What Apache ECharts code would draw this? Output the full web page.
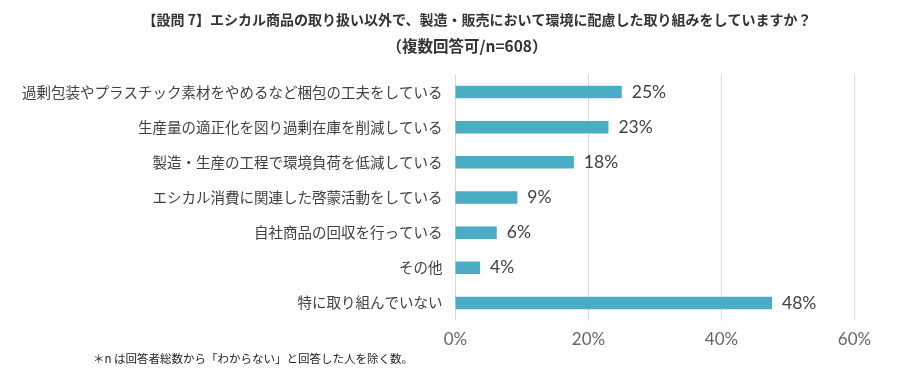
<!DOCTYPE html>
<html><head><meta charset="utf-8">
<script src="https://cdn.jsdelivr.net/npm/echarts@6/dist/echarts.min.js"></script>
<style>html,body{margin:0;padding:0;background:#fff}#c{width:914px;height:383px}</style>
</head><body><div id="c"></div>
<script>
const titleLine1 = '【設問 7】エシカル商品の取り扱い以外で、製造・販売において環境に配慮した取り組みをしていますか？';
const titleLine2 = '（複数回答可/n=608）';
const footnote = '＊n は回答者総数から「わからない」と回答した人を除く数。';
const categories = [
  '過剰包装やプラスチック素材をやめるなど梱包の工夫をしている',
  '生産量の適正化を図り過剰在庫を削減している',
  '製造・生産の工程で環境負荷を低減している',
  'エシカル消費に関連した啓蒙活動をしている',
  '自社商品の回収を行っている',
  'その他',
  '特に取り組んでいない'
];
const values = [25.0, 23.0, 17.8, 9.3, 6.2, 3.7, 47.6];
const valueLabels = ['25%', '23%', '18%', '9%', '6%', '4%', '48%'];
const axisMax = 60;
const axisInterval = 20;

const jp = '"Noto Sans CJK JP", "Noto Sans", sans-serif';
const num = 'Lato, "Noto Sans", sans-serif';
const chart = echarts.init(document.getElementById('c'));
chart.setOption({
  animation: false,
  title: [
    {text: titleLine1, left: 472, top: 8, textAlign: 'center',
     textStyle: {fontFamily: jp, fontSize: 14, fontWeight: 'bold', color: '#333'}},
    {text: titleLine2, left: 462, top: 33, textAlign: 'center',
     textStyle: {fontFamily: jp, fontSize: 15.5, fontWeight: 'bold', color: '#333'}}
  ],
  graphic: [{type: 'text', left: 93, top: 353,
    style: {text: footnote, font: '11.5px ' + jp, fill: '#222'}}],
  grid: {left: 455.5, right: 59.5, top: 74.5, bottom: 62.5},
  xAxis: {
    type: 'value', min: 0, max: axisMax, interval: axisInterval,
    axisLine: {show: false}, axisTick: {show: false},
    splitLine: {show: true, lineStyle: {color: '#d9d9d9', width: 1}},
    axisLabel: {formatter: v => v + '%', fontFamily: num, fontSize: 17, color: '#666', margin: 11}
  },
  yAxis: {
    type: 'category', data: categories, inverse: true,
    axisLine: {show: false}, axisTick: {show: false},
    axisLabel: {fontFamily: jp, fontSize: 14.5, color: '#404040', margin: 13}
  },
  series: [{
    type: 'bar', data: values, barWidth: 12.5,
    itemStyle: {color: '#4BACC6'},
    label: {show: true, position: 'right', distance: 10,
      formatter: p => valueLabels[p.dataIndex],
      fontFamily: num, fontSize: 17.5, color: '#404040'}
  }]
});
</script></body></html>
